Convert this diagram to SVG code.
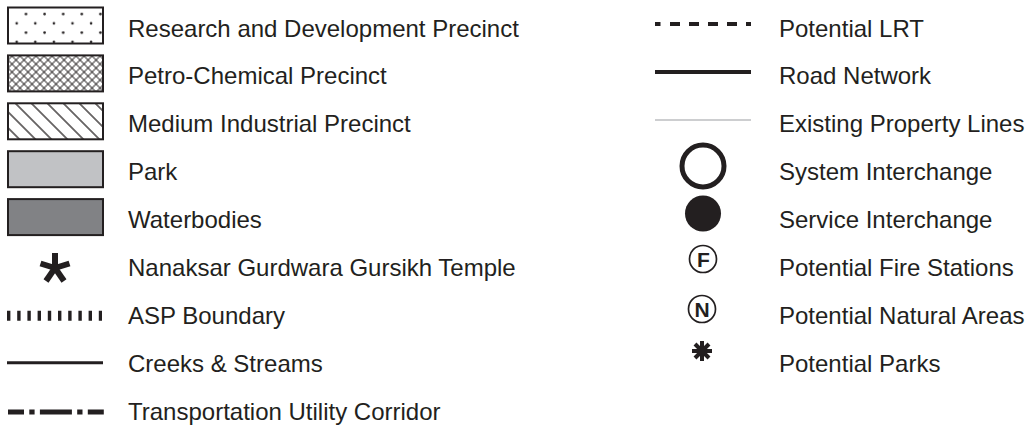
<svg xmlns="http://www.w3.org/2000/svg" width="1029" height="425" viewBox="0 0 1029 425">
<style>
.t{font-family:"Liberation Sans",Arial,sans-serif;font-size:24px;fill:#231f20}
.box{stroke:#231f20;stroke-width:2}
.ln{stroke:#231f20;fill:none}
.sym{font-family:"Liberation Sans",Arial,sans-serif;font-weight:bold;font-size:21px;fill:#231f20}
</style>
<defs>
<pattern id="dots" patternUnits="userSpaceOnUse" x="0" y="0" width="18.6" height="18.6">
<circle cx="7.4" cy="14" r="1.3" fill="#231f20"/>
<circle cx="16.7" cy="4.7" r="1.3" fill="#231f20"/>
</pattern>
<pattern id="cross" patternUnits="userSpaceOnUse" width="5.66" height="5.66" patternTransform="rotate(45)">
<line x1="0" y1="2.83" x2="5.66" y2="2.83" stroke="#231f20" stroke-width="0.95"/>
<line x1="2.83" y1="0" x2="2.83" y2="5.66" stroke="#231f20" stroke-width="0.95"/>
</pattern>
<pattern id="hatch" patternUnits="userSpaceOnUse" width="11.3" height="11.3" patternTransform="rotate(45)">
<line x1="0" y1="5.65" x2="11.3" y2="5.65" stroke="#231f20" stroke-width="1.3"/>
</pattern>
</defs>
<g id="connectors"/>
<g id="rd">
<rect class="box" x="8" y="7.5" width="95" height="36" fill="#fff"/>
<rect x="8" y="7.5" width="95" height="36" fill="url(#dots)"/>
<text class="t" x="128" y="36.5">Research and Development Precinct</text>
</g>
<g id="petro">
<rect class="box" x="8" y="55.4" width="95" height="36" fill="#fff"/>
<rect x="8" y="55.4" width="95" height="36" fill="url(#cross)"/>
<text class="t" x="128" y="84.4">Petro-Chemical Precinct</text>
</g>
<g id="medium">
<rect class="box" x="8" y="103.3" width="95" height="36" fill="#fff"/>
<rect x="8" y="103.3" width="95" height="36" fill="url(#hatch)"/>
<text class="t" x="128" y="132.3">Medium Industrial Precinct</text>
</g>
<g id="park">
<rect class="box" x="8" y="151.2" width="95" height="36" fill="#c1c2c5"/>
<text class="t" x="128" y="180.2">Park</text>
</g>
<g id="water">
<rect class="box" x="8" y="199.1" width="95" height="36" fill="#818285"/>
<text class="t" x="128" y="228.1">Waterbodies</text>
</g>
<g id="temple">
<g stroke="#231f20" stroke-width="6" stroke-linecap="butt">
<line x1="55" y1="268" x2="55" y2="253"/>
<line x1="55" y1="268" x2="40.5" y2="263.5"/>
<line x1="55" y1="268" x2="69.5" y2="263.5"/>
<line x1="55" y1="268" x2="46" y2="281"/>
<line x1="55" y1="268" x2="64" y2="281"/>
</g>
<text class="t" x="128" y="276">Nanaksar Gurdwara Gursikh Temple</text>
</g>
<g id="asp">
<line class="ln" x1="7" y1="315.7" x2="102" y2="315.7" stroke-width="10" stroke-dasharray="3.4 6.8"/>
<text class="t" x="128" y="323.9">ASP Boundary</text>
</g>
<g id="creeks">
<line class="ln" x1="7" y1="362.7" x2="103" y2="362.7" stroke-width="3"/>
<text class="t" x="128" y="371.8">Creeks &amp; Streams</text>
</g>
<g id="tuc">
<line class="ln" x1="8" y1="412" x2="104" y2="412" stroke-width="5" stroke-dasharray="16 5.3 5.3 5.3 32 5.3 5.3 5.3 16"/>
<text class="t" x="128" y="419.7">Transportation Utility Corridor</text>
</g>
<g id="lrt">
<line class="ln" x1="655" y1="24" x2="751" y2="24" stroke-width="4" stroke-dasharray="5.5 9.5 10 9 10 9 10 9 10 9 5"/>
<text class="t" x="779" y="36.5">Potential LRT</text>
</g>
<g id="road">
<line class="ln" x1="655" y1="72" x2="751" y2="72" stroke-width="4"/>
<text class="t" x="779" y="84.4">Road Network</text>
</g>
<g id="prop">
<line x1="655" y1="120" x2="751" y2="120" stroke="#bcbec0" stroke-width="1.4"/>
<text class="t" x="779" y="132.3">Existing Property Lines</text>
</g>
<g id="system">
<circle cx="703" cy="166" r="21" fill="none" stroke="#231f20" stroke-width="5"/>
<text class="t" x="779" y="180.2">System Interchange</text>
</g>
<g id="service">
<circle cx="703" cy="213.5" r="18" fill="#231f20"/>
<text class="t" x="779" y="228.1">Service Interchange</text>
</g>
<g id="fire">
<circle cx="703" cy="259" r="13.5" fill="none" stroke="#231f20" stroke-width="1.7"/>
<text class="sym" x="703.5" y="266.5" text-anchor="middle">F</text>
<text class="t" x="779" y="276">Potential Fire Stations</text>
</g>
<g id="natural">
<circle cx="702" cy="309" r="13.5" fill="none" stroke="#231f20" stroke-width="1.7"/>
<text class="sym" x="702" y="316.5" text-anchor="middle">N</text>
<text class="t" x="779" y="323.9">Potential Natural Areas</text>
</g>
<g id="parks">
<g stroke="#231f20" stroke-width="4">
<line x1="702" y1="341" x2="702" y2="361"/>
<line x1="692" y1="351" x2="712" y2="351"/>
<line x1="695" y1="344" x2="709" y2="358"/>
<line x1="709" y1="344" x2="695" y2="358"/>
</g>
<circle cx="702" cy="351" r="4" fill="#231f20"/>
<text class="t" x="779" y="371.8">Potential Parks</text>
</g>
</svg>
